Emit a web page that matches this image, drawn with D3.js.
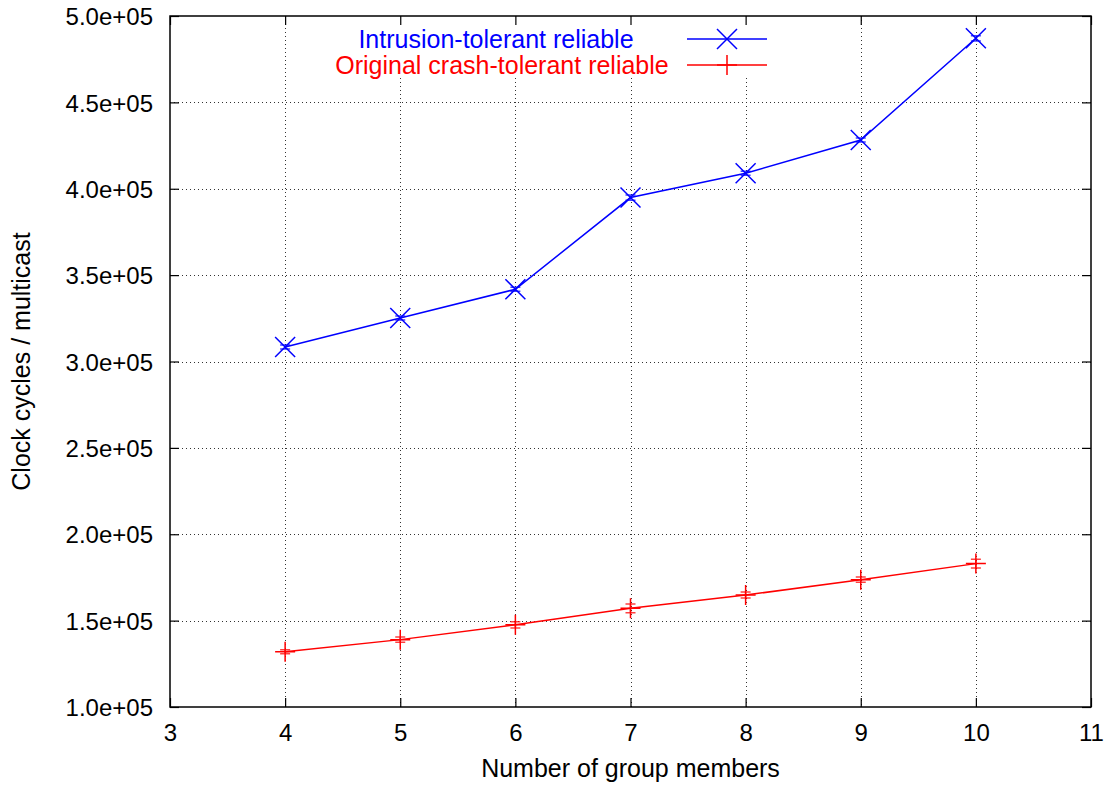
<!DOCTYPE html>
<html>
<head>
<meta charset="utf-8">
<script src="https://cdn.jsdelivr.net/npm/d3@7/dist/d3.min.js"></script>
<style>
  html, body { margin: 0; padding: 0; background: #fff; }
  svg { display: block; font-family: "Liberation Sans", Arial, Helvetica, sans-serif; }
</style>
</head>
<body>
<svg id="chart" width="1107" height="786"></svg>
<script>
// Group size on the x axis
const members = [4, 5, 6, 7, 8, 9, 10];

// Clock cycles per multicast
const intrusionTolerant = [308400, 325200, 341800, 394900, 409000, 428200, 487100];
const intrusionErr = [1200, 1200, 1200, 1500, 1200, 1200, 1500];
const crashTolerant = [132000, 139000, 147600, 157100, 164800, 173700, 183000];
const crashErr = [1200, 1500, 1800, 2500, 1700, 1500, 2500];

const xTicks = [3, 4, 5, 6, 7, 8, 9, 10, 11];
const yTicks = [100000, 150000, 200000, 250000, 300000, 350000, 400000, 450000, 500000];
const yTickLabels = ["1.0e+05", "1.5e+05", "2.0e+05", "2.5e+05", "3.0e+05",
                     "3.5e+05", "4.0e+05", "4.5e+05", "5.0e+05"];

const seriesNames = ["Intrusion-tolerant reliable", "Original crash-tolerant reliable"];
const seriesColors = ["#0000ff", "#ff0000"];

const margin = { left: 170, right: 1091, top: 16, bottom: 707 };
const svg = d3.select("#chart");

const x = d3.scaleLinear().domain([3, 11]).range([margin.left, margin.right]);
const y = d3.scaleLinear().domain([100000, 500000]).range([margin.bottom, margin.top]);

// Key area, kept clear of grid lines
const key = { x0: 333, x1: 772, y0: margin.top, y1: 78 };

// Grid
const grid = svg.append("g").attr("stroke", "#333").attr("stroke-width", 1)
  .attr("stroke-dasharray", "1,3").attr("fill", "none");
xTicks.slice(1, -1).forEach(t => {
  const px = Math.round(x(t)) + 0.5;
  const top = (px > key.x0 && px < key.x1) ? key.y1 : margin.top;
  grid.append("line").attr("x1", px).attr("x2", px).attr("y1", top).attr("y2", margin.bottom);
});
yTicks.slice(1, -1).forEach(t => {
  const py = Math.round(y(t)) + 0.5;
  grid.append("line").attr("x1", margin.left).attr("x2", margin.right).attr("y1", py).attr("y2", py);
});

// Axes with inward ticks on all four sides
const tickLen = 9;
const axB = svg.append("g").attr("transform", `translate(0,${margin.bottom})`)
  .call(d3.axisBottom(x).tickValues(xTicks).tickSize(-tickLen).tickPadding(tickLen + 8).tickFormat(d3.format("d")));
const axT = svg.append("g").attr("transform", `translate(0,${margin.top})`)
  .call(d3.axisTop(x).tickValues(xTicks).tickSize(-tickLen).tickFormat(""));
const axL = svg.append("g").attr("transform", `translate(${margin.left},0)`)
  .call(d3.axisLeft(y).tickValues(yTicks).tickSize(-tickLen).tickPadding(tickLen + 8)
    .tickFormat((d, i) => yTickLabels[i]));
const axR = svg.append("g").attr("transform", `translate(${margin.right},0)`)
  .call(d3.axisRight(y).tickValues(yTicks).tickSize(-tickLen).tickFormat(""));
[axB, axT, axL, axR].forEach(g => {
  g.select(".domain").remove();
  g.selectAll(".tick line").attr("stroke", "#000").attr("stroke-width", 1.2);
  g.selectAll("text").attr("font-size", 24).attr("fill", "#000")
    .attr("font-family", "'Liberation Sans', Arial, sans-serif");
});
axL.selectAll("text").attr("dy", "0.36em");
axB.selectAll("text").attr("y", 0).attr("dy", 0).attr("transform", "translate(0,34)");

// Frame
svg.append("rect").attr("x", margin.left).attr("y", margin.top)
  .attr("width", margin.right - margin.left).attr("height", margin.bottom - margin.top)
  .attr("fill", "none").attr("stroke", "#000").attr("stroke-width", 1.5);

// Axis titles
svg.append("text").attr("x", (margin.left + margin.right) / 2).attr("y", 777)
  .attr("text-anchor", "middle").attr("font-size", 25).text("Number of group members");
svg.append("text").attr("transform", `translate(30,${(margin.top + margin.bottom) / 2}) rotate(-90)`)
  .attr("text-anchor", "middle").attr("font-size", 25).text("Clock cycles / multicast");

// Markers
function drawCross(g, cx, cy, r, color) {
  g.append("path").attr("d", `M${cx - r},${cy - r}L${cx + r},${cy + r}M${cx - r},${cy + r}L${cx + r},${cy - r}`)
    .attr("stroke", color).attr("stroke-width", 1.5).attr("fill", "none");
}
function drawPlus(g, cx, cy, r, color) {
  g.append("path").attr("d", `M${cx - r},${cy}L${cx + r},${cy}M${cx},${cy - r}L${cx},${cy + r}`)
    .attr("stroke", color).attr("stroke-width", 1.5).attr("fill", "none");
}
function drawErr(g, cx, v, e, color) {
  const y0 = y(v - e), y1 = y(v + e), w = 5;
  g.append("path").attr("d", `M${cx},${y0}L${cx},${y1}M${cx - w},${y0}L${cx + w},${y0}M${cx - w},${y1}L${cx + w},${y1}`)
    .attr("stroke", color).attr("stroke-width", 1.5).attr("fill", "none").attr("opacity", 0.75);
}

const line = d3.line().x(d => x(d[0])).y(d => y(d[1]));
const series = [
  { values: intrusionTolerant, err: intrusionErr, marker: drawCross },
  { values: crashTolerant, err: crashErr, marker: drawPlus }
];
series.forEach((s, i) => {
  const g = svg.append("g");
  const pts = members.map((m, j) => [m, s.values[j]]);
  g.append("path").datum(pts).attr("d", line).attr("fill", "none")
    .attr("stroke", seriesColors[i]).attr("stroke-width", 1.5);
  pts.forEach((p, j) => {
    drawErr(g, x(p[0]), p[1], s.err[j], seriesColors[i]);
    s.marker(g, x(p[0]), y(p[1]), 10, seriesColors[i]);
  });
});

// Key
const keyRows = [{ y: 39, name: seriesNames[0], marker: drawCross, tx: 496 },
                 { y: 65, name: seriesNames[1], marker: drawPlus, tx: 502 }];
keyRows.forEach((r, i) => {
  svg.append("text").attr("x", r.tx).attr("y", r.y).attr("dy", "0.35em")
    .attr("text-anchor", "middle").attr("font-size", 25).attr("fill", seriesColors[i]).text(r.name);
  const g = svg.append("g");
  g.append("line").attr("x1", 687).attr("x2", 767).attr("y1", r.y).attr("y2", r.y)
    .attr("stroke", seriesColors[i]).attr("stroke-width", 1.5);
  r.marker(g, 727, r.y, 10, seriesColors[i]);
});
</script>
</body>
</html>
